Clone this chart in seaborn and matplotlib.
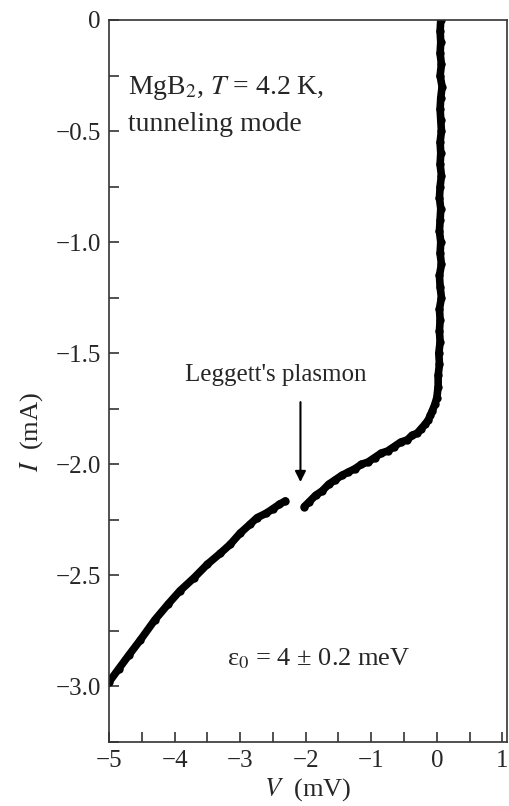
import numpy as np
import pandas as pd
import matplotlib
matplotlib.use("Agg")
import matplotlib.pyplot as plt
import seaborn as sns

# --- data ---
# segment 1: vertical branch + bend (V in mV, I in mA)
seg1_V = [0.06, 0.05, 0.06, 0.05, 0.07, 0.05, 0.08, 0.06, 0.05, 0.06,
          0.07, 0.05, 0.06, 0.05, 0.07, 0.05, 0.04, 0.06, 0.05, 0.04,
          0.06, 0.05, 0.07, 0.04, 0.05, 0.07, 0.04, 0.05, 0.04, 0.05,
          0.03, 0.04, 0.02, 0.02, 0.00,
          -0.03, -0.07, -0.10, -0.13, -0.18, -0.24, -0.30, -0.38, -0.45, -0.55,
          -0.65, -0.75, -0.85, -0.95, -1.05, -1.15, -1.25, -1.35, -1.45, -1.55,
          -1.65, -1.75, -1.85, -1.95, -2.02]
seg1_I = [0.00, -0.05, -0.10, -0.15, -0.20, -0.25, -0.30, -0.35, -0.40, -0.45,
          -0.50, -0.55, -0.60, -0.65, -0.70, -0.75, -0.80, -0.85, -0.90, -0.95,
          -1.00, -1.05, -1.10, -1.15, -1.20, -1.25, -1.30, -1.35, -1.40, -1.45,
          -1.50, -1.55, -1.60, -1.65, -1.70,
          -1.73, -1.76, -1.78, -1.80, -1.82, -1.84, -1.86, -1.87, -1.89, -1.90,
          -1.92, -1.94, -1.95, -1.97, -1.99, -2.00, -2.02, -2.035, -2.05, -2.07,
          -2.09, -2.12, -2.14, -2.17, -2.19]
# segment 2: branch below the plasmon feature
seg2_V = [-2.31, -2.40, -2.50, -2.60, -2.74, -2.85, -3.00, -3.15, -3.30, -3.50,
          -3.70, -3.92, -4.10, -4.30, -4.52, -4.70, -4.85, -5.00]
seg2_I = [-2.165, -2.18, -2.20, -2.22, -2.24, -2.27, -2.31, -2.36, -2.40, -2.45,
          -2.51, -2.57, -2.63, -2.70, -2.79, -2.86, -2.92, -2.98]

x_ticks = [-5, -4, -3, -2, -1, 0, 1]
x_tick_labels = ["\u22125", "\u22124", "\u22123", "\u22122", "\u22121", "0", "1"]
y_ticks = [0, -0.5, -1.0, -1.5, -2.0, -2.5, -3.0]
y_tick_labels = ["0", "\u22120.5", "\u22121.0", "\u22121.5", "\u22122.0", "\u22122.5", "\u22123.0"]

df = pd.DataFrame({
    "V": seg1_V + seg2_V,
    "I": seg1_I + seg2_I,
    "seg": [1] * len(seg1_V) + [2] * len(seg2_V),
})

sns.set_theme(style="ticks")
plt.rcParams["font.family"] = ["Liberation Serif", "DejaVu Serif"]
plt.rcParams["mathtext.fontset"] = "stix"

fig = plt.figure(figsize=(5.09, 8.06), dpi=100)
ax = fig.add_axes([109 / 509, 64 / 806, 398 / 509, 722 / 806])

sns.lineplot(data=df, x="V", y="I", units="seg", estimator=None, sort=False,
             color="black", linewidth=5.5, marker="o", markersize=6,
             markeredgewidth=0, ax=ax, legend=False)

ax.set_xlim(-5, 1.07)
ax.set_ylim(-3.2, 0)
ax.set_xticks(x_ticks)
ax.set_xticklabels(x_tick_labels)
ax.set_yticks(y_ticks)
ax.set_yticklabels(y_tick_labels)
ax.set_xticks(np.arange(-4.5, 1.0, 1.0), minor=True)
ax.set_yticks(np.arange(-3.25, 0, 0.5), minor=True)
ax.tick_params(which="both", direction="in", length=7, width=1.2, color="#333333",
               labelsize=18, pad=6, top=False, right=False)
for s in ax.spines.values():
    s.set_linewidth(1.2)
    s.set_color("#333333")

ax.set_xlabel("$V$  (mV)", fontsize=19, labelpad=3)
ax.set_ylabel("$I$  (mA)", fontsize=19)
ax.yaxis.set_label_coords(-0.16, 0.43)

ax.text(-4.71, -0.332, "MgB$_2$, $T$ = 4.2 K,", fontsize=20, ha="left", va="baseline")
ax.text(-4.71, -0.50, "tunneling mode", fontsize=20, ha="left", va="baseline")
ax.text(-2.46, -1.624, "Leggett's plasmon", fontsize=18, ha="center", va="baseline")
ax.text(-3.2, -2.907, "\u03b5$_0$ = 4 \u00b1 0.2 meV", fontsize=19, ha="left", va="baseline")
ax.annotate("", xy=(-2.08, -2.08), xytext=(-2.08, -1.72),
            arrowprops=dict(arrowstyle="-|>", color="black", lw=1.5,
                            mutation_scale=16, shrinkA=0, shrinkB=0))

fig.savefig("out.png", dpi=100)
